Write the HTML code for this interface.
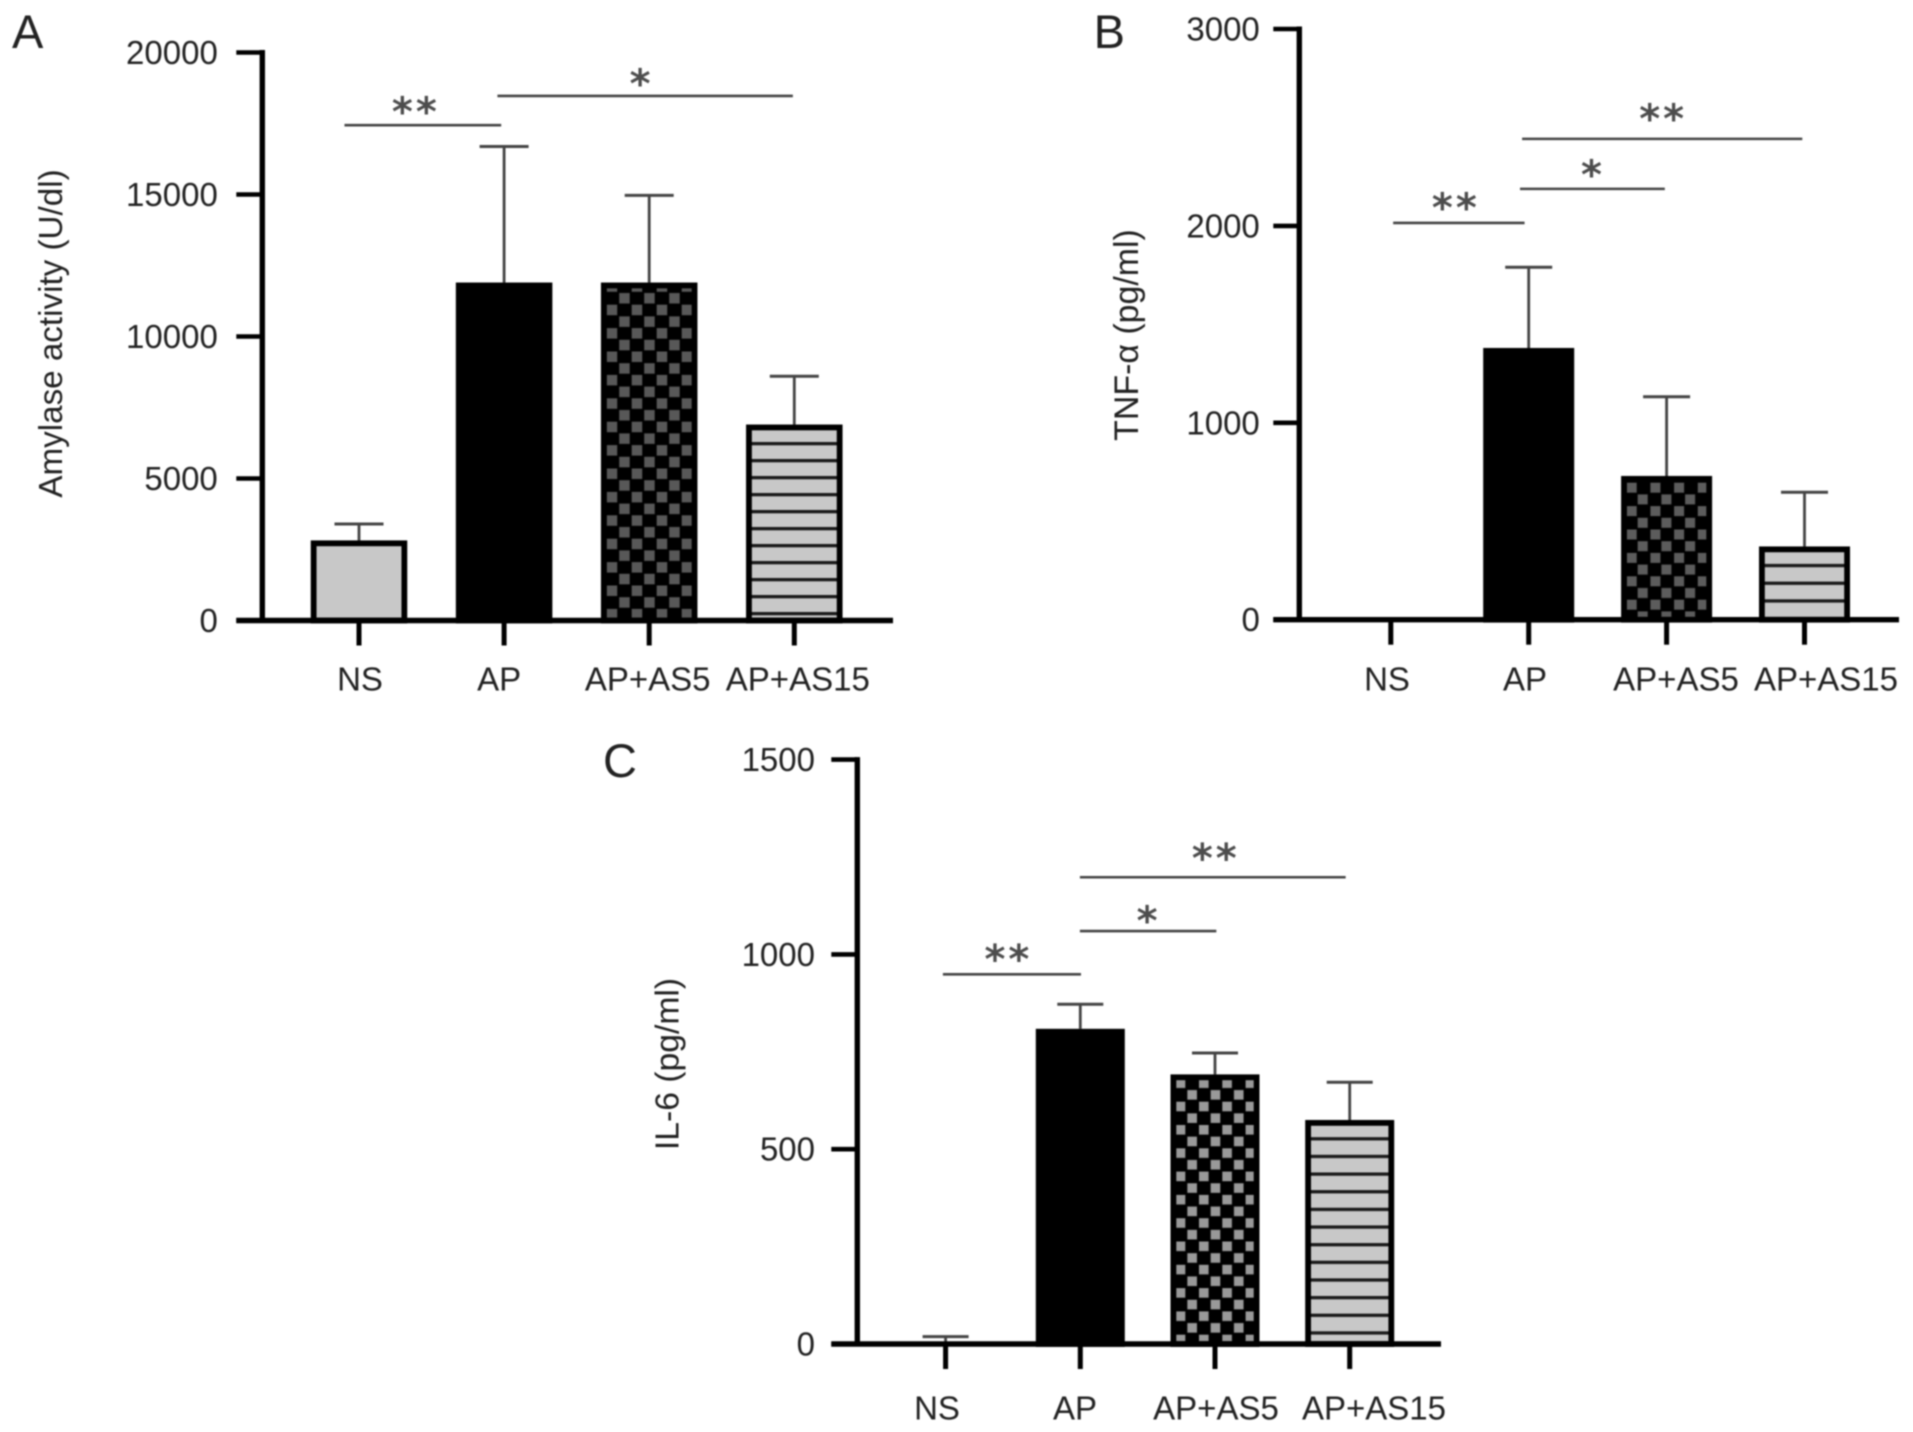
<!DOCTYPE html>
<html lang="en">
<head>
<meta charset="utf-8">
<title>Amylase, TNF-α and IL-6 bar charts</title>
<style>
html,body{margin:0;padding:0;background:#fff;width:1913px;height:1432px;overflow:hidden}
svg{display:block;filter:blur(.7px)}
text{font-family:"Liberation Sans",sans-serif;fill:#222}
.stars{font-family:"DejaVu Sans",sans-serif;font-weight:bold;fill:#4d4d4d}
</style>
</head>
<body>
<svg id="figure" xmlns="http://www.w3.org/2000/svg" width="1913" height="1432" viewBox="0 0 1913 1432">
  <defs>
    <pattern id="stripes-a" patternUnits="userSpaceOnUse" width="20" height="17" patternTransform="translate(0,612)"><rect width="20" height="17" fill="#c8c8c8"/><rect width="20" height="3.3" fill="#1a1a1a"/></pattern>
    <pattern id="stripes-b" patternUnits="userSpaceOnUse" width="20" height="17.7" patternTransform="translate(0,599.3)"><rect width="20" height="17.7" fill="#c8c8c8"/><rect width="20" height="3.3" fill="#1a1a1a"/></pattern>
    <pattern id="stripes-c" patternUnits="userSpaceOnUse" width="20" height="17.65" patternTransform="translate(0,1331.3)"><rect width="20" height="17.65" fill="#c8c8c8"/><rect width="20" height="3.3" fill="#1a1a1a"/></pattern>
    <pattern id="checks-a" patternUnits="userSpaceOnUse" width="25" height="23.4" patternTransform="translate(606.7,421.7)"><rect width="25" height="23.4" fill="#000"/><rect width="10.5" height="10.5" fill="#585858"/><rect x="12.5" y="11.7" width="10.5" height="10.5" fill="#585858"/></pattern>
    <pattern id="checks-b" patternUnits="userSpaceOnUse" width="23.7" height="23.4" patternTransform="translate(1626.7,482.7)"><rect width="23.7" height="23.4" fill="#000"/><rect width="10" height="10" fill="#5c5c5c"/><rect x="11" y="11.7" width="10" height="10" fill="#5c5c5c"/></pattern>
    <pattern id="checks-c" patternUnits="userSpaceOnUse" width="23.3" height="23.3" patternTransform="translate(1175.7,1101.7)"><rect width="23.3" height="23.3" fill="#000"/><rect width="9.6" height="9.6" fill="#999"/><rect x="11.65" y="11.65" width="9.6" height="9.6" fill="#999"/></pattern>
  </defs>
</svg>
<script>
// ---------- Data ----------
const categories = ['NS', 'AP', 'AP+AS5', 'AP+AS15'];

const amylaseMeans = [2820, 11900, 11900, 6900];
const amylaseErrors = [3400, 16690, 14970, 8600];
const amylaseTicks = [0, 5000, 10000, 15000, 20000];
const amylaseSigFrom = [-0.1, 0.954];
const amylaseSigTo = [0.98, 2.99];
const amylaseSigLevel = [17440, 18470];
const amylaseSigLabel = ['**', '*'];

const tnfMeans = [0, 1380, 730, 372];
const tnfErrors = [0, 1790, 1132, 647];
const tnfTicks = [0, 1000, 2000, 3000];
const tnfSigFrom = [0.017, 0.937, 0.952];
const tnfSigTo = [0.97, 1.987, 2.984];
const tnfSigLevel = [2015, 2188, 2442];
const tnfSigLabel = ['**', '*', '**'];

const il6Means = [3, 809, 692, 575];
const il6Errors = [19, 872, 747, 672];
const il6Ticks = [0, 500, 1000, 1500];
const il6SigFrom = [-0.02, 0.997, 0.997];
const il6SigTo = [1.005, 2.01, 2.97];
const il6SigLevel = [949, 1060, 1198];
const il6SigLabel = ['**', '*', '**'];

// ---------- Rendering ----------
const svg = document.getElementById('figure');
const NS = 'http://www.w3.org/2000/svg';

function make(tag, attrs, text) {
  const el = document.createElementNS(NS, tag);
  for (const k in attrs) el.setAttribute(k, attrs[k]);
  if (text !== undefined) el.textContent = text;
  return el;
}

function drawPanel(p) {
  const g = make('g', {});
  
  
  svg.appendChild(g);

  const y = v => p.zeroY - (v / p.maxValue) * (p.zeroY - p.topY);
  const x = i => p.firstX + i * p.stepX;

  // error bars
  p.errors.forEach((err, i) => {
    if (err <= 0) return;
    const stem = make('line', {x1: x(i), x2: x(i), y1: y(p.means[i]), y2: y(err), stroke: '#444', 'stroke-width': 2.8});
    
    
    g.appendChild(stem);
    const cap = make('line', {x1: x(i) - p.capW / 2, x2: x(i) + p.capW / 2, y1: y(err), y2: y(err), stroke: '#444', 'stroke-width': 3});
    
    
    g.appendChild(cap);
  });

  // bars
  p.means.forEach((m, i) => {
    const h = y(0) - y(m);
    if (h < 6) return;
    const sw = 5.8;
    const bar = make('rect', {
      x: x(i) - p.barW / 2 + sw / 2,
      y: y(m) + sw / 2,
      width: p.barW - sw,
      height: h - sw / 2,
      fill: p.fills[i],
      stroke: '#000',
      'stroke-width': sw
    });
    
    
    g.appendChild(bar);
  });

  // axes
  const yAxis = make('line', {x1: p.axisX, x2: p.axisX, y1: y(p.maxValue) - 2.5, y2: y(0) + 2, stroke: '#000', 'stroke-width': 5.4});
  
  
  g.appendChild(yAxis);
  const xAxis = make('line', {x1: p.axisX - 26, x2: p.axisEnd, y1: y(0), y2: y(0), stroke: '#000', 'stroke-width': 5.4});
  
  
  g.appendChild(xAxis);

  // y ticks
  p.ticks.forEach(t => {
    const tick = make('line', {x1: p.axisX - 26, x2: p.axisX, y1: y(t), y2: y(t), stroke: '#000', 'stroke-width': 4.6});
    
    
    g.appendChild(tick);
    const lab = make('text', {x: p.axisX - p.labelGap, y: y(t) + 11.5, 'text-anchor': 'end', 'font-size': 33}, String(t));
    
    
    g.appendChild(lab);
  });

  // x ticks + labels
  categories.forEach((c, i) => {
    const tick = make('line', {x1: x(i), x2: x(i), y1: y(0), y2: y(0) + 25, stroke: '#000', 'stroke-width': 5});
    
    
    g.appendChild(tick);
    const lab = make('text', {x: x(i) + p.labelNudge[i], y: p.xLabelY, 'text-anchor': 'middle', 'font-size': 33}, c);
    
    
    g.appendChild(lab);
  });

  // axis title
  const title = make('text', {
    transform: 'translate(' + p.titleX + ',' + p.titleY + ') rotate(-90)',
    'text-anchor': 'middle',
    'font-size': p.titleSize
  }, p.title);
  
  
  g.appendChild(title);

  // panel letter
  const letter = make('text', {x: p.letterX, y: p.letterY, 'font-size': 47}, p.letter);
  
  
  g.appendChild(letter);

  // significance lines and stars
  p.sigLevel.forEach((lev, k) => {
    const x1 = x(p.sigFrom[k]);
    const x2 = x(p.sigTo[k]);
    const line = make('line', {x1: x1, x2: x2, y1: y(lev), y2: y(lev), stroke: '#444', 'stroke-width': 2.6});
    
    
    g.appendChild(line);
    const star = make('text', {
      x: (x1 + x2) / 2 + p.starNudge[k],
      y: y(lev) + 1 - p.starLift[k],
      'text-anchor': 'middle',
      'font-size': 40,
      'letter-spacing': p.sigLabel[k].length > 1 ? 3 : 0,
      class: 'stars'
    }, p.sigLabel[k]);
    
    
    g.appendChild(star);
  });
}

drawPanel({
  name: 'amylase', letter: 'A', letterX: 12, letterY: 48,
  title: 'Amylase activity (U/dl)', titleX: 62, titleY: 333.5, titleSize: 33.2,
  means: amylaseMeans, errors: amylaseErrors, ticks: amylaseTicks,
  sigFrom: amylaseSigFrom, sigTo: amylaseSigTo, sigLevel: amylaseSigLevel, sigLabel: amylaseSigLabel,
  maxValue: 20000, zeroY: 620.5, topY: 52.5,
  axisX: 262.3, axisEnd: 893, firstX: 359, stepX: 145.1, barW: 96.5, capW: 49, labelGap: 44.5,
  xLabelY: 690.5, labelNudge: [1, -5, -1.5, 3.5], starNudge: [-7, -5], starLift: [0.8, -0.4],
  fills: ['#c8c8c8', '#000', 'url(#checks-a)', 'url(#stripes-a)']
});

drawPanel({
  name: 'tnf-alpha', letter: 'B', letterX: 1093.6, letterY: 48,
  title: 'TNF-α (pg/ml)', titleX: 1138, titleY: 335, titleSize: 33.9,
  means: tnfMeans, errors: tnfErrors, ticks: tnfTicks,
  sigFrom: tnfSigFrom, sigTo: tnfSigTo, sigLevel: tnfSigLevel, sigLabel: tnfSigLabel,
  maxValue: 3000, zeroY: 619.7, topY: 29,
  axisX: 1299.3, axisEnd: 1899, firstX: 1390.8, stepX: 137.9, barW: 91, capW: 47, labelGap: 39.5,
  xLabelY: 690.5, labelNudge: [-3.8, -3.7, 9.4, 21.5], starNudge: [-3, -1, 1], starLift: [2.2, 1.2, 7.3],
  fills: ['#c8c8c8', '#000', 'url(#checks-b)', 'url(#stripes-b)']
});

drawPanel({
  name: 'il-6', letter: 'C', letterX: 603, letterY: 777,
  title: 'IL-6 (pg/ml)', titleX: 678.6, titleY: 1064, titleSize: 33.7,
  means: il6Means, errors: il6Errors, ticks: il6Ticks,
  sigFrom: il6SigFrom, sigTo: il6SigTo, sigLevel: il6SigLevel, sigLabel: il6SigLabel,
  maxValue: 1500, zeroY: 1344, topY: 759.6,
  axisX: 857.3, axisEnd: 1441, firstX: 945.6, stepX: 134.7, barW: 89, capW: 46, labelGap: 42.3,
  xLabelY: 1419.3, labelNudge: [-8.6, -5.3, 1, 24.3], starNudge: [-3.5, -1, 3], starLift: [2.2, -2.4, 6.1],
  fills: ['#c8c8c8', '#000', 'url(#checks-c)', 'url(#stripes-c)']
});
</script>
</body>
</html>
